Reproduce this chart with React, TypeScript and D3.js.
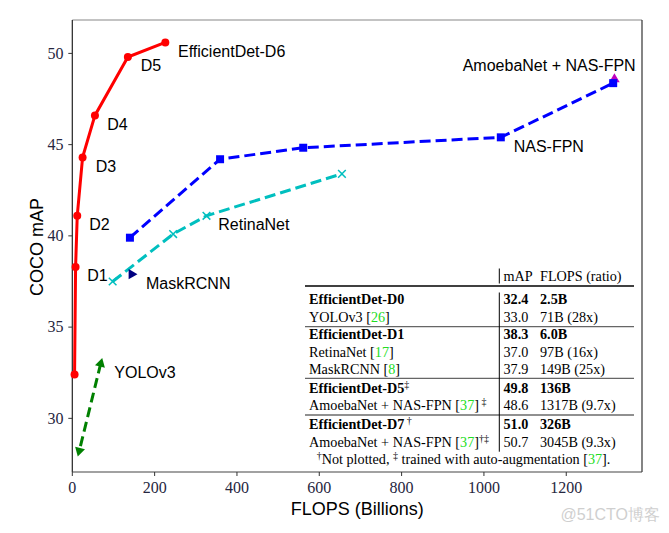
import React from "react";
import * as d3 from "d3";

// ---------- data ----------
const effFlops = [5.5, 8, 12, 25, 55, 135, 226];
const effMap = [32.4, 38.3, 41.1, 44.3, 46.6, 49.8, 50.6];
const effNames = ["", "D1", "D2", "D3", "D4", "D5", "EfficientDet-D6"];

const nasFlops = [140, 359, 561, 1041, 1314];
const nasMap = [39.9, 44.2, 44.83, 45.4, 48.37];

const retinaFlops = [98, 245, 326, 655];
const retinaMap = [37.5, 40.1, 41.1, 43.4];

const yoloFlops = [69, 17];
const yoloMap = [33.0, 28.22];

const maskFlops = [144];
const maskMap = [37.9];

const amoebaFlops = [1317];
const amoebaMap = [48.58];

const xTicks = [0, 200, 400, 600, 800, 1000, 1200];
const yTicks = [30, 35, 40, 45, 50];

const tableHeader = ["mAP", "FLOPS (ratio)"];
const tableNames = [
  "EfficientDet-D0", "YOLOv3", "EfficientDet-D1", "RetinaNet", "MaskRCNN",
  "EfficientDet-D5", "AmoebaNet + NAS-FPN", "EfficientDet-D7", "AmoebaNet + NAS-FPN",
];
const tableRefs = ["", "26", "", "17", "8", "", "37", "", "37"];
const tableMarks = ["", "", "", "", "", "‡", " ‡", " †", "†‡"];
const tableMap = ["32.4", "33.0", "38.3", "37.0", "37.9", "49.8", "48.6", "51.0", "50.7"];
const tableFlops = ["2.5B", "71B (28x)", "6.0B", "97B (16x)", "149B (25x)", "136B", "1317B (9.7x)", "326B", "3045B (9.3x)"];
const tableBold = [true, false, true, false, false, true, false, true, false];

// ---------- layout ----------
const W = 669, H = 533;
const x = d3.scaleLinear().domain([0, 1384]).range([72.3, 642]);
const y = d3.scaleLinear().domain([27.06, 51.83]).range([472, 20]);

const sans = "'Liberation Sans', Arial, Helvetica, sans-serif";
const serif = "'Liberation Serif', 'Times New Roman', serif";
const tickColor = "#262640";

const line = d3.line<[number, number]>().x((d) => x(d[0])).y((d) => y(d[1]));
const zip = (a: number[], b: number[]) => a.map((v, i) => [v, b[i]] as [number, number]);

const sym = (type: d3.SymbolType, size: number) => d3.symbol().type(type).size(size)() as string;

export default function App() {
  const eff = zip(effFlops, effMap);
  const nas = zip(nasFlops, nasMap);
  const ret = zip(retinaFlops, retinaMap);
  const yolo = zip(yoloFlops, yoloMap);

  const effLabelPos: [number, number][] = [
    [0, 0], [87.3, 281], [89.3, 230], [95.7, 172], [107.3, 130], [140.7, 71], [178, 57],
  ];

  const rowBase = [304.3, 321.7, 339, 356.7, 374, 392.7, 410.3, 429.3, 446.7];
  const c1 = 309, c2 = 503.5, c3 = 540;

  return (
    <svg width={W} height={H} style={{ position: "absolute", left: 0, top: 0, display: "block", background: "#fff" }}>
      <rect x={0} y={0} width={W} height={H} fill="#fff" />

      {/* frame */}
      <line x1={72.3} x2={642} y1={20} y2={20} stroke="#888" strokeWidth={1.2} />
      <line x1={642} x2={642} y1={20} y2={472} stroke="#333" strokeWidth={1.2} />
      <line x1={72.3} x2={72.3} y1={20} y2={472} stroke="#222" strokeWidth={1.2} />
      <line x1={72.3} x2={642} y1={472} y2={472} stroke="#444" strokeWidth={1.2} />

      {/* ticks */}
      {xTicks.map((t) => (
        <g key={"x" + t}>
          <line x1={x(t)} x2={x(t)} y1={472} y2={476} stroke="#333" strokeWidth={1} />
          <text x={x(t)} y={493} textAnchor="middle" fontFamily={serif} fontSize={16} fill={tickColor}>{t}</text>
        </g>
      ))}
      {yTicks.map((t) => (
        <g key={"y" + t}>
          <line x1={68.3} x2={72.3} y1={y(t)} y2={y(t)} stroke="#333" strokeWidth={1} />
          <text x={63.5} y={y(t) + 5.3} textAnchor="end" fontFamily={serif} fontSize={16} fill={tickColor}>{t}</text>
        </g>
      ))}

      {/* axis labels */}
      <text x={357.3} y={515} textAnchor="middle" fontFamily={sans} fontSize={18} fill="#000">FLOPS (Billions)</text>
      <text transform={`translate(42.5,247) rotate(-90)`} textAnchor="middle" fontFamily={sans} fontSize={18} fill="#000">COCO mAP</text>

      {/* YOLOv3 */}
      <path d={line(yolo) as string} fill="none" stroke="#008000" strokeWidth={3} strokeDasharray="10,5" />
      <path d={sym(d3.symbolTriangle, 45)} transform={`translate(${x(yolo[0][0])},${y(yolo[0][1])}) rotate(15)`} fill="#008000" />
      <path d={sym(d3.symbolTriangle, 45)} transform={`translate(${x(yolo[1][0])},${y(yolo[1][1])}) rotate(195)`} fill="#008000" />

      {/* RetinaNet */}
      <path d={line(ret) as string} fill="none" stroke="#00bfbf" strokeWidth={3} strokeDasharray="11,5" />
      {ret.map((d, i) => (
        <path key={"r" + i} d={sym(d3.symbolX, 40)} transform={`translate(${x(d[0])},${y(d[1])})`} fill="none" stroke="#00bfbf" strokeWidth={1.5} />
      ))}

      {/* MaskRCNN */}
      {maskFlops.map((f, i) => (
        <path key={"m" + i} d={sym(d3.symbolTriangle, 45)} transform={`translate(${x(f)},${y(maskMap[i])}) rotate(90)`} fill="#000080" />
      ))}

      {/* AmoebaNet */}
      {amoebaFlops.map((f, i) => (
        <path key={"a" + i} d={sym(d3.symbolTriangle, 48)} transform={`translate(${x(f)},${y(amoebaMap[i])})`} fill="#bf00bf" />
      ))}

      {/* NAS-FPN */}
      <path d={line(nas) as string} fill="none" stroke="#0000ff" strokeWidth={3} strokeDasharray="11,5" />
      {nas.map((d, i) => (
        <path key={"n" + i} d={sym(d3.symbolSquare, 64)} transform={`translate(${x(d[0])},${y(d[1])})`} fill="#0000ff" />
      ))}

      {/* EfficientDet */}
      <path d={line(eff) as string} fill="none" stroke="#ff0000" strokeWidth={3} />
      {eff.map((d, i) => (
        <circle key={"e" + i} cx={x(d[0])} cy={y(d[1])} r={4} fill="#ff0000" />
      ))}

      {/* labels */}
      {effNames.map((n, i) =>
        n ? (
          <text key={"el" + i} x={effLabelPos[i][0]} y={effLabelPos[i][1]} fontFamily={sans} fontSize={16} fill="#000">{n}</text>
        ) : null
      )}
      <text x={146} y={289.3} fontFamily={sans} fontSize={16} fill="#000">MaskRCNN</text>
      <text x={218.3} y={230} fontFamily={sans} fontSize={16} fill="#000">RetinaNet</text>
      <text x={114.3} y={378} fontFamily={sans} fontSize={16} fill="#000">YOLOv3</text>
      <text x={513.7} y={151.7} fontFamily={sans} fontSize={16} fill="#000">NAS-FPN</text>
      <text x={462.7} y={71} fontFamily={sans} fontSize={16} fill="#000">AmoebaNet + NAS-FPN</text>

      {/* table */}
      <g fontFamily={serif} fontSize={14.2} fill="#000">
        <text x={c2} y={280.5}>{tableHeader[0]}</text>
        <text x={c3} y={280.5}>{tableHeader[1]}</text>
        <line x1={305} x2={634} y1={286} y2={286} stroke="#000" strokeWidth={1.5} />
        <line x1={305} x2={634} y1={326.7} y2={326.7} stroke="#666" strokeWidth={1.2} />
        <line x1={305} x2={634} y1={378.3} y2={378.3} stroke="#666" strokeWidth={1.2} />
        <line x1={305} x2={634} y1={415} y2={415} stroke="#222" strokeWidth={1.2} />
        <line x1={499.3} x2={499.3} y1={268.5} y2={283.5} stroke="#000" strokeWidth={1} />
        <line x1={499.3} x2={499.3} y1={292.5} y2={451.7} stroke="#000" strokeWidth={1} />
        {tableNames.map((n, i) => (
          <g key={"t" + i} fontWeight={tableBold[i] ? "bold" : "normal"}>
            <text x={c1} y={rowBase[i]}>
              {n}
              {tableRefs[i] ? (
                <>
                  <tspan fontWeight="normal"> [</tspan>
                  <tspan fontWeight="normal" fill="#22dd22">{tableRefs[i]}</tspan>
                  <tspan fontWeight="normal">]</tspan>
                </>
              ) : null}
              {tableMarks[i] ? (
                <tspan fontWeight="normal" fontSize={10} dy={-5}>{tableMarks[i]}</tspan>
              ) : null}
            </text>
            <text x={c2} y={rowBase[i]}>{tableMap[i]}</text>
            <text x={c3} y={rowBase[i]}>{tableFlops[i]}</text>
          </g>
        ))}
        <text x={316.7} y={464.3}>
          <tspan fontSize={10} dy={-5}>†</tspan>
          <tspan dy={5}>Not plotted, </tspan>
          <tspan fontSize={10} dy={-5}>‡</tspan>
          <tspan dy={5}> trained with auto-augmentation [</tspan>
          <tspan fill="#22dd22">37</tspan>
          <tspan>].</tspan>
        </text>
      </g>

      {/* watermark */}
      <text x={660} y={520} textAnchor="end" fontFamily={sans} fontSize={16} fill="#cfcfcf">@51CTO博客</text>
    </svg>
  );
}
